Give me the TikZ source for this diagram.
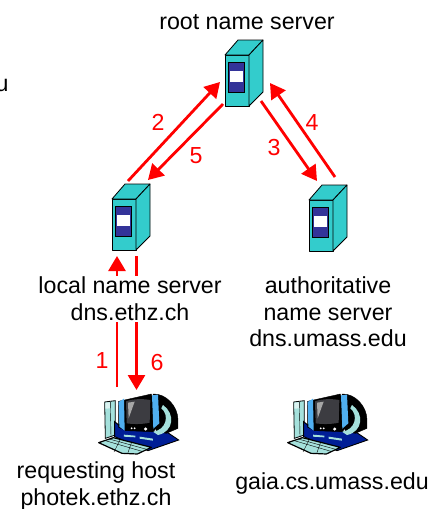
\documentclass[tikz,border=0pt]{standalone}
\usepackage{fontspec}
\setmainfont{Liberation Sans}
\usetikzlibrary{arrows.meta}
\definecolor{srvteal}{RGB}{51,204,204}
\definecolor{srvblue}{RGB}{51,51,153}
\definecolor{pcblue}{RGB}{0,30,150}
\definecolor{pcsky}{RGB}{80,175,240}
\definecolor{pcpale}{RGB}{165,225,220}
\definecolor{pcgrey}{RGB}{60,60,65}
\tikzset{
	msg/.style={red, line width=2.8pt, -{Triangle[length=15pt,width=17pt]}},
	lbl/.style={font=\fontsize{23.2}{26.7}\selectfont, align=center, inner sep=1pt},
	num/.style={font=\fontsize{23.2}{26.7}\selectfont, text=red, inner sep=0pt},
	pics/dnsbox/.style={code={
		\draw[fill=srvteal, line width=0.8pt, line join=round] (0,0) rectangle (24,51);
		\draw[fill=srvteal, line width=0.8pt, line join=round] (0,0) -- (13,-15) -- (38,-15) -- (24,0) -- cycle;
		\draw[fill=srvteal, line width=0.8pt, line join=round] (24,0) -- (38,-15) -- (38,37) -- (24,51) -- cycle;
		\draw[fill=srvblue, line width=0.8pt] (3,7) rectangle (19,37);
		\fill[white] (5,16) rectangle (18,27);
	}},
	pics/pcbox/.style={code={
		% tower
		\draw[fill=pcpale, line width=0.8pt] (20,36) -- (52,32) -- (52,135) -- (22,145) -- cycle;
		\fill[white!60!pcpale] (22,38) -- (36,37) -- (38,55) -- (22,56) -- cycle;
		\draw[line width=0.4pt] (37,36) -- (39,140);
		% base
		\draw[fill=pcblue, line width=0.9pt] (50,95) -- (80,120) -- (205,125) -- (242,150) -- (150,182) -- (50,140) -- cycle;
		% rear
		\draw[fill=black] (165,12) .. controls (205,10) and (240,50) .. (240,90) -- (240,115) -- (205,130) -- (175,125) -- cycle;
		\draw[fill=pcpale, draw=none] (195,45) .. controls (232,70) and (228,125) .. (180,135) -- (165,125) .. controls (205,120) and (215,75) .. (190,55) -- cycle;
		% neck
		\fill[pcpale] (78,134) -- (112,137) -- (112,142) -- (78,140) -- cycle;
		\fill[pcpale] (125,140) -- (165,146) -- (165,152) -- (125,146) -- cycle;
		% bezel
		\draw[fill=black] (62,34) -- (160,12) -- (185,105) -- (165,125) -- (84,122) -- (62,112) -- cycle;
		\draw[fill=pcsky, draw=none] (62,36) -- (78,26) -- (80,122) -- (64,110) -- cycle;
		\draw[fill=pcsky, draw=none] (162,16) -- (180,14) -- (184,100) -- (166,116) -- cycle;
		% screen
		\fill[pcgrey] (84,34) .. controls (105,26) and (135,26) .. (157,30) -- (155,98) .. controls (135,103) and (105,103) .. (86,100) -- cycle;
		\fill[gray!70] (90,38) -- (110,35) -- (92,85) -- cycle;
		\fill[white] (101,115) circle (3);
		\fill[white] (110,115) circle (3);
		\fill[white] (143,117) circle (5);
		% keyboard
		\draw[fill=pcpale, line width=1.2pt, line join=round] (2,158) -- (46,143) -- (160,172) -- (118,192) -- (72,190) -- cycle;
		\draw[line width=0.4pt] (22,152) -- (132,184) (34,147) -- (146,178) (66,150) -- (48,186) (100,159) -- (90,188);
	}}
}
\begin{document}
\begin{tikzpicture}[x=1pt,y=-1pt]
	\useasboundingbox (0,0) rectangle (430,509);
	
	\coordinate (a1s) at (117,387);
	\coordinate (a1e) at (117,256);
	\coordinate (a2s) at (128,181);
	\coordinate (a2e) at (220,82);
	\coordinate (a3s) at (261,101);
	\coordinate (a3e) at (317,181);
	\coordinate (a4s) at (335,177);
	\coordinate (a4e) at (270,83);
	\coordinate (a5s) at (223,104);
	\coordinate (a5e) at (148,180);
	\coordinate (a6s) at (136.5,256);
	\coordinate (a6e) at (136.5,390);
	
	\draw[msg] (a1s) -- (a1e);
	\draw[msg] (a6s) -- (a6e);
	\draw[msg] (a2s) -- (a2e);
	\draw[msg] (a3s) -- (a3e);
	\draw[msg] (a4s) -- (a4e);
	\draw[msg] (a5s) -- (a5e);
	
	\pic at (225,55) {dnsbox};
	\pic at (112,199) {dnsbox};
	\pic at (309,200) {dnsbox};
	\pic[scale=0.3333] at (98,390) {pcbox};
	\pic[scale=0.3333] at (287,390) {pcbox};
	
	\node[lbl] (root) at (247,22) {root name server};
	\node[lbl, fill=white] (local) at (130,299) {local name server\\dns.ethz.ch};
	\node[lbl] (auth) at (328,312) {authoritative\\name server\\dns.umass.edu};
	\node[lbl] (host) at (96,486) {requesting host\\photek.ethz.ch};
	\node[lbl] (gaia) at (332,483) {gaia.cs.umass.edu};
	\node[lbl] (cut) at (2,85) {u};
	
	\node[num] (n1) at (102,361) {1};
	\node[num] (n2) at (158,122) {2};
	\node[num] (n3) at (274,148) {3};
	\node[num] (n4) at (312,123) {4};
	\node[num] (n5) at (196,156) {5};
	\node[num] (n6) at (157,363) {6};
	
\end{tikzpicture}
\end{document}
